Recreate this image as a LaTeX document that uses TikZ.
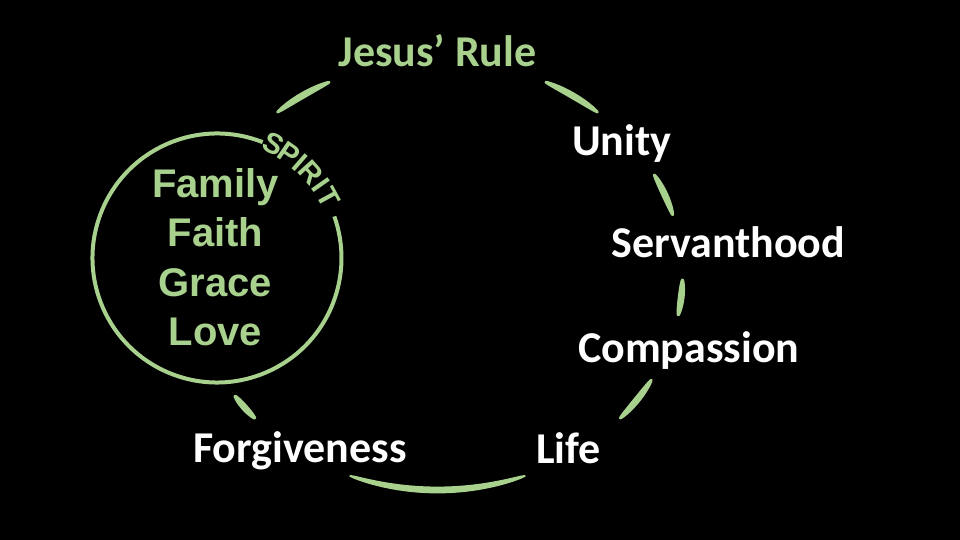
\documentclass[tikz,border=0pt]{standalone}
\usepackage{fontspec}
\setmainfont{Carlito}
\newfontfamily\arialf{Liberation Sans}
\usetikzlibrary{calc}
\definecolor{jg}{HTML}{A9D18E}
\newcommand\tarc[2]{%
  \fill[jg] plot[domain=#1:#2,samples=40,variable=\t]
    ({437.5+(245+hw(\t,#1,#2))*cos(\t)},{265+(215+hw(\t,#1,#2))*sin(\t)})
    -- plot[domain=#2:#1,samples=40,variable=\t]
    ({437.5+(245-hw(\t,#1,#2))*cos(\t)},{265+(215-hw(\t,#1,#2))*sin(\t)}) -- cycle;}
\tikzset{
  wlab/.style={text=white, inner sep=0pt, font=\bfseries\fontsize{44}{44}\selectfont},
  glab/.style={text=jg, inner sep=0pt, font=\arialf\bfseries\fontsize{40}{40}\selectfont},
  splab/.style={text=jg, inner sep=0pt, font=\arialf\bfseries\fontsize{29}{29}\selectfont},
}
\begin{document}
\begin{tikzpicture}[x=1pt,y=1pt,
  declare function={hw(\t,\p,\q)=0.8+2.6*sqrt(abs(sin(180*(\t-\p)/(\q-\p))));}]
\fill[black] (0,0) rectangle (960,540);
\useasboundingbox (0,0) rectangle (960,540);
% big ring segments
\tarc{116}{131}
\tarc{49}{64}
\tarc{16}{28}
\tarc{-11}{-1}
\tarc{-42}{-29}
\tarc{-111}{-69}
\tarc{-146}{-138}
% small circle
\coordinate (c) at (217,282);
\draw[jg, line width=4] ($(c)+(68.5:124.5)$) arc[start angle=68.5, end angle=379.5, radius=124.5];
\foreach \l/\a [count=\i] in {S/63.5,P/55.5,I/49,R/42,I/35,T/28.5}{
  \pgfmathsetmacro\rot{\a-90}
  \node[splab, rotate=\rot] (sp\i) at ($(c)+(\a:127)$) {\l};
}
\node[glab, anchor=base] (family) at (215.5,342.5) {Family};
\node[glab, anchor=base] (faith) at (215.5,293) {Faith};
\node[glab, anchor=base] (grace) at (215.5,243.5) {Grace};
\node[glab, anchor=base] (love) at (215.5,194) {Love};
% labels
\node[wlab, text=jg, anchor=base] (rule) at (437.5,473) {Jesus’ Rule};
\node[wlab, anchor=base west] (unity) at (572,384.5) {Unity};
\node[wlab, anchor=base west] (serv) at (611,282) {Servanthood};
\node[wlab, anchor=base west] (comp) at (578,177) {Compassion};
\node[wlab, anchor=base west] (life) at (536,76) {Life};
\node[wlab, anchor=base west] (forg) at (193,77) {Forgiveness};
\end{tikzpicture}
\end{document}
